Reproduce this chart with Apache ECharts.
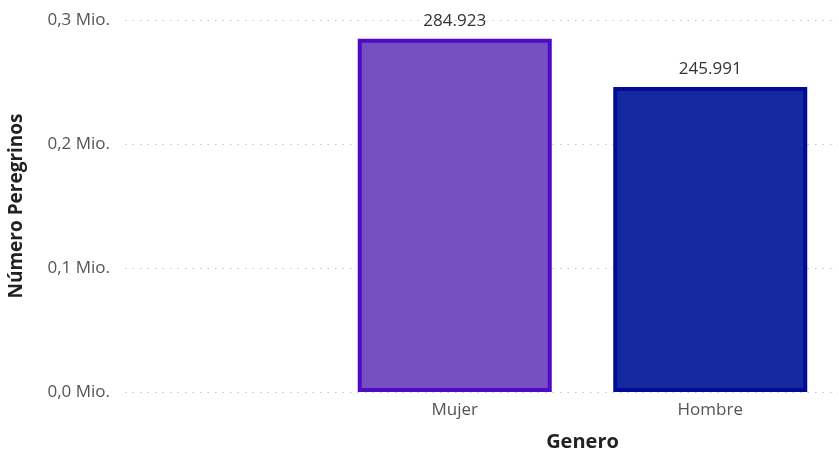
<!DOCTYPE html>
<html>
<head>
<meta charset="utf-8">
<script src="https://cdn.jsdelivr.net/npm/echarts@6/dist/echarts.min.js"></script>
<style>html,body{margin:0;padding:0;background:#fff}#c{width:839px;height:451px}</style>
</head>
<body>
<div id="c"></div>
<script>
const categories = ['Mujer', 'Hombre'];
const values = [284923, 245991];
const barColors = ['#764FC2', '#1428A0'];
const borderColors = ['#4E0AC4', '#000C94'];
const yTicks = [0, 100000, 200000, 300000];

const FONT = '"Open Sans", "Noto Sans", sans-serif';
const chart = echarts.init(document.getElementById('c'));
function fmtMio(v){ return (v/1e6).toFixed(1).replace('.', ',') + ' Mio.'; }
function fmtNum(v){ return String(v).replace(/\B(?=(\d{3})+(?!\d))/g, '.'); }

chart.setOption({
  animation: false,
  grid: [
    {left: 125, right: 1, top: 20, bottom: 59, outerBoundsMode: 'none', containLabel: false},
    {left: 327, right: 1, top: 20, bottom: 59, outerBoundsMode: 'none', containLabel: false}
  ],
  xAxis: [
    {gridIndex: 0, type: 'value', min: 0, max: 1, show: false},
    {gridIndex: 1, type: 'category', data: categories,
     axisLine: {show: false}, axisTick: {show: false},
     axisLabel: {color: '#555', fontSize: 17, fontFamily: FONT, margin: 10},
     name: 'Genero', nameLocation: 'middle', nameGap: 40,
     nameTextStyle: {color: '#222', fontSize: 20, fontWeight: 'bold', fontFamily: FONT}}
  ],
  yAxis: [
    {gridIndex: 0, type: 'value', min: yTicks[0], max: yTicks[yTicks.length-1], interval: 100000,
     axisLine: {show: false}, axisTick: {show: false},
     axisLabel: {color: '#555', fontSize: 17, fontFamily: FONT, margin: 15, formatter: fmtMio},
     splitLine: {show: true, lineStyle: {color: '#c4c4c4', type: [1.5, 6], width: 1.2}},
     name: 'Número Peregrinos', nameLocation: 'middle', nameGap: 99,
     nameTextStyle: {color: '#222', fontSize: 19, fontWeight: 'bold', fontFamily: FONT}},
    {gridIndex: 1, type: 'value', min: yTicks[0], max: yTicks[yTicks.length-1], show: false,
     splitLine: {show: false}}
  ],
  series: [{
    type: 'bar', xAxisIndex: 1, yAxisIndex: 1,
    barWidth: 194,
    data: values.map((v, i) => ({value: v, itemStyle: {color: barColors[i], borderColor: borderColors[i], borderWidth: 4}})),
    label: {show: true, position: 'top', distance: 9, color: '#333', fontSize: 17, fontFamily: FONT,
            formatter: p => fmtNum(p.value)}
  }]
});
</script>
</body>
</html>
